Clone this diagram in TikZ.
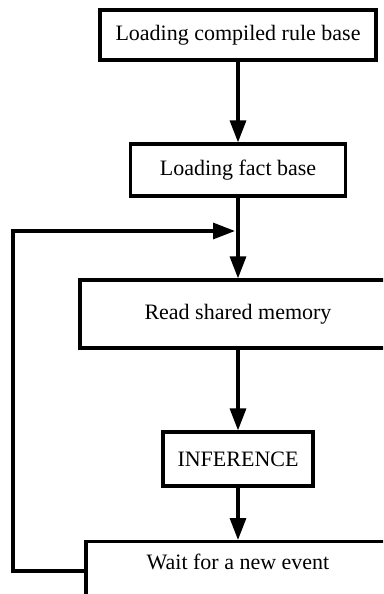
\documentclass[tikz,border=0pt]{standalone}
\usepackage{fontspec}
\setmainfont{Liberation Serif}
\usetikzlibrary{arrows.meta,calc}

\tikzset{
  stepbox/.style={draw, line width=3.2pt, fill=white, inner sep=0pt,
    font=\fontsize{22}{25}\selectfont},
  flow/.style={line width=3.2pt, -{Triangle[length=22pt,width=16pt]}},
}

\begin{document}
\begin{tikzpicture}[x=1pt,y=-1pt]
  \useasboundingbox (0,0) rectangle (383,594);
  \fill[white] (0,0) rectangle (383,594);
  \clip (0,0) rectangle (383,594);

  % process steps
  \node[stepbox, minimum width=276pt, minimum height=50pt] (rules) at (238,35) {Loading compiled rule base};
  \node[stepbox, minimum width=215pt, minimum height=52pt] (facts) at (238,170) {Loading fact base};
  \node[stepbox, minimum width=316pt, minimum height=68pt] (shm) at (238,314) {Read shared memory};
  \node[stepbox, minimum width=150pt, minimum height=54pt] (inf) at (238,459) {INFERENCE};
  \node[stepbox, anchor=north, minimum width=304pt, text height=18pt, text depth=60pt,
        inner ysep=10pt] (wait) at (238,540) {Wait for a new event};

  % main sequence
  \draw[flow] (rules) -- (facts);
  \draw[flow] (facts) -- (shm);
  \draw[flow] (shm) -- (inf);
  \draw[flow] (inf) -- (wait.north);

  % return loop
  \coordinate (ret) at ($(wait.north west)+(0,31)$);
  \coordinate (top) at (13,231);
  \coordinate (merge) at (facts.south |- top);
  \draw[flow, shorten >=3pt] (ret) -| (top) -- (merge);
\end{tikzpicture}
\end{document}
